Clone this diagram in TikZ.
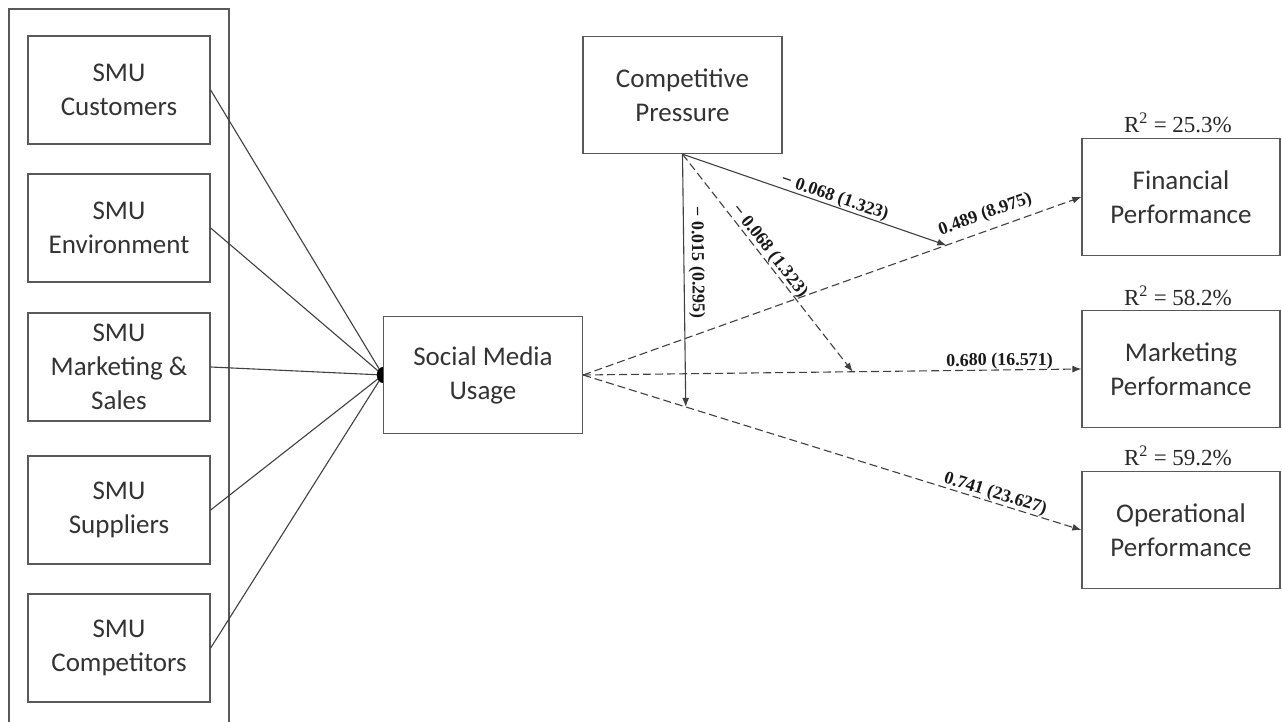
\documentclass[tikz,border=0pt]{standalone}
\usepackage{fontspec}
\setmainfont{Carlito}
\newfontfamily\seriffont{Liberation Serif}
\usetikzlibrary{arrows.meta}
\begin{document}
\begin{tikzpicture}[x=1pt,y=-1pt,
  box/.style={draw=black!65, line width=1.3pt, align=center, text=black!80,
    font=\fontsize{27}{34}\selectfont, inner sep=0pt},
  inbox/.style={box, minimum width=182pt, minimum height=108pt},
  bigbox/.style={box, minimum width=199pt, minimum height=117pt},
  conn/.style={draw=black!75, line width=1.1pt},
  arr/.style={conn, -{Latex[length=9pt,width=7pt]}},
  dsh/.style={dash pattern=on 8pt off 4pt},
  lab/.style={font=\seriffont\bfseries\fontsize{18}{18}\selectfont, text=black!90,
    sloped, above, inner sep=0pt},
  rsq/.style={font=\seriffont\fontsize{23}{23}\selectfont, text=black!85,
    anchor=base, inner sep=0pt}]
\useasboundingbox (0,0) rectangle (1282,722);
% outer group frame (runs off the bottom)
\draw[draw=black!65, line width=1.3pt] (9,735) -- (9,9) -- (229,9) -- (229,735);
% SMU items
\node[inbox] (cus) at (119,90)  {SMU\\Customers};
\node[inbox] (env) at (119,228) {SMU\\Environment};
\node[inbox] (mks) at (119,367) {SMU\\Marketing \&\\Sales};
\node[inbox] (sup) at (119,510) {SMU\\Suppliers};
\node[inbox] (cmp) at (119,648) {SMU\\Competitors};
% main constructs
\node[bigbox] (smu) at (483,375)  {Social Media\\Usage};
\node[bigbox] (cp)  at (682.5,95) {Competitive\\Pressure};
\node[bigbox, minimum width=198pt] (fp) at (1181,197) {Financial\\Performance};
\node[bigbox, minimum width=198pt] (mp) at (1181,369) {Marketing\\Performance};
\node[bigbox, minimum width=198pt] (op) at (1181,530) {Operational\\Performance};
% R squared
\node[rsq, xshift=-3pt, yshift=5pt] (r1) at (fp.north) {R\textsuperscript{2} = 25.3\%};
\node[rsq, xshift=-3pt, yshift=4pt] (r2) at (mp.north) {R\textsuperscript{2} = 58.2\%};
\node[rsq, xshift=-3pt, yshift=5pt] (r3) at (op.north) {R\textsuperscript{2} = 59.2\%};
% join point
\coordinate (j) at (smu.west);
\draw[conn] (cus.east) -- (j);
\draw[conn] (env.east) -- (j);
\draw[conn] (mks.east) -- (j);
\draw[conn] (sup.east) -- (j);
\draw[conn] (cmp.east) -- (j);
\fill[black] (j) ++(0pt,8pt) arc[start angle=90, end angle=270, x radius=6pt, y radius=8pt] -- cycle;
% main paths
\path (smu.east) -- (fp.west) coordinate[pos=0.729] (f1);
\path (smu.east) -- (mp.west) coordinate[pos=0.541] (m1);
\path (smu.east) -- (op.west) coordinate[pos=0.206] (o1);
\draw[arr,dsh] (smu.east) -- node[lab, pos=0.818, inner sep=7pt] {0.489 (8.975)} (fp.west);
\draw[arr,dsh] (smu.east) -- node[lab, pos=0.836] {0.680 (16.571)} (mp.west);
\draw[arr,dsh] (smu.east) -- node[lab, pos=0.822] {0.741 (23.627)} (op.west);
% moderation
\draw[arr] (cp.south) -- node[lab, pos=0.566] {− 0.068 (1.323)} (f1);
\draw[arr,dsh] (cp.south) -- node[lab, pos=0.47] {− 0.068 (1.323)} (m1);
\draw[arr] (cp.south) -- node[lab, pos=0.43, inner sep=4pt] {− 0.015 (0.295)} (o1);
\end{tikzpicture}
\end{document}
